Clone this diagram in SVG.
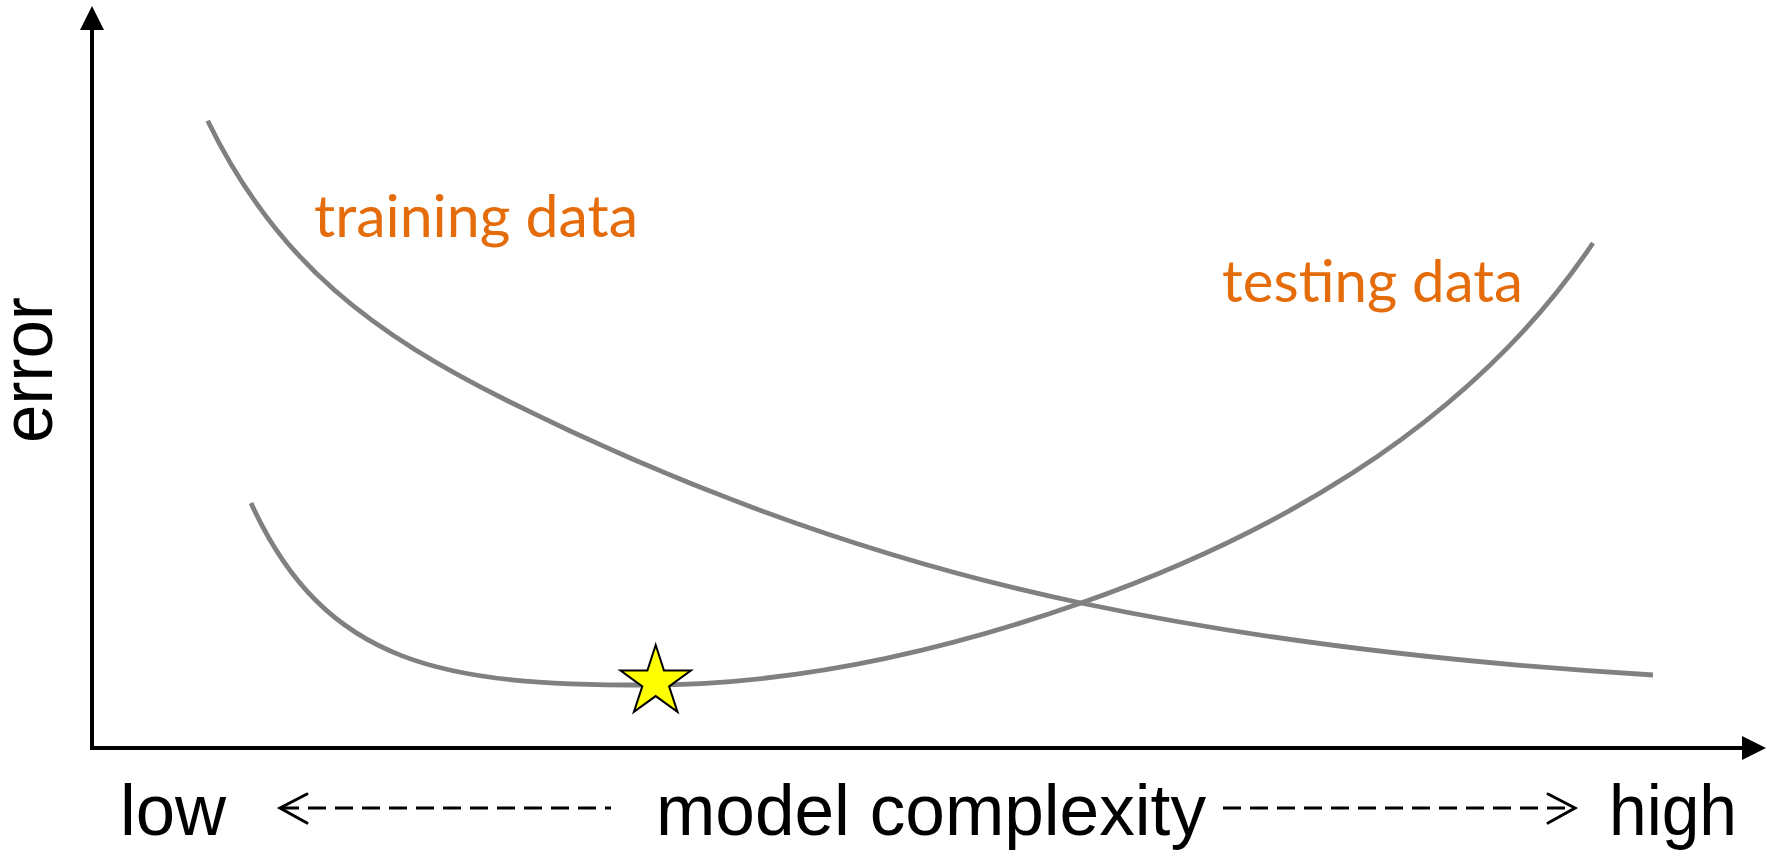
<svg xmlns="http://www.w3.org/2000/svg" width="1777" height="852" viewBox="0 0 1777 852">
<style>
.axis{fill:none;stroke:#000;stroke-width:4;stroke-linejoin:miter}
.curve{fill:none;stroke:#808080;stroke-width:4.8}
.dash{fill:none;stroke:#000;stroke-width:3;stroke-dasharray:18 9}
.chev{fill:none;stroke:#000;stroke-width:3;stroke-linecap:round;stroke-linejoin:miter}
.lbl{font-family:"Liberation Sans",Arial,sans-serif;font-size:72px;fill:#000}
.orange{font-family:Lato,"Open Sans",sans-serif;font-size:58px;fill:#E46C0A}
</style>
<rect width="1777" height="852" fill="#fff"/>
<g id="axes">
<polyline class="axis" points="92,28 92,748 1744,748"/>
<polygon points="92,6 80,30 104,30" fill="#000"/>
<polygon points="1766,748 1742,736 1742,760" fill="#000"/>
</g>
<g id="connectors">
<path id="training-curve" class="curve" d="M207.7,120.7 C277.7,264.9 376,335 506,400 C696,495 891,563 1081,603 C1271,643 1463,663.6 1653,675"/>
<path id="testing-curve" class="curve" d="M251,503 C326,668 447,685 647,685 C792,685 936,653.75 1081,603 C1251,543.5 1463,436.7 1593,243"/>
<g id="left-arrow">
<line class="dash" x1="281" y1="808" x2="611" y2="808"/>
<polyline class="chev" points="307,794 280,808 307,823"/>
</g>
<g id="right-arrow">
<line class="dash" x1="1223" y1="808" x2="1573" y2="808"/>
<polyline class="chev" points="1548,794 1575,808 1548,823"/>
</g>
</g>
<g id="star">
<polygon points="655.7,645 664,670.6 690.9,670.6 669.1,686.4 677.5,711.9 655.7,696.1 633.9,711.9 642.3,686.4 620.5,670.6 647.4,670.6" fill="#FFFF00" stroke="#000" stroke-width="2" stroke-linejoin="miter"/>
</g>
<g id="labels">
<text class="orange" x="314" y="237" textLength="324" lengthAdjust="spacingAndGlyphs">training data</text>
<text class="orange" x="1222" y="302" textLength="301" lengthAdjust="spacingAndGlyphs">testing data</text>
<text class="lbl" transform="translate(51.5,443) rotate(-90)" textLength="146" lengthAdjust="spacingAndGlyphs">error</text>
<text class="lbl" x="120" y="835" textLength="106" lengthAdjust="spacingAndGlyphs">low</text>
<text class="lbl" x="656" y="835" textLength="550" lengthAdjust="spacingAndGlyphs">model complexity</text>
<text class="lbl" x="1609" y="835" textLength="128" lengthAdjust="spacingAndGlyphs">high</text>
</g>
</svg>
